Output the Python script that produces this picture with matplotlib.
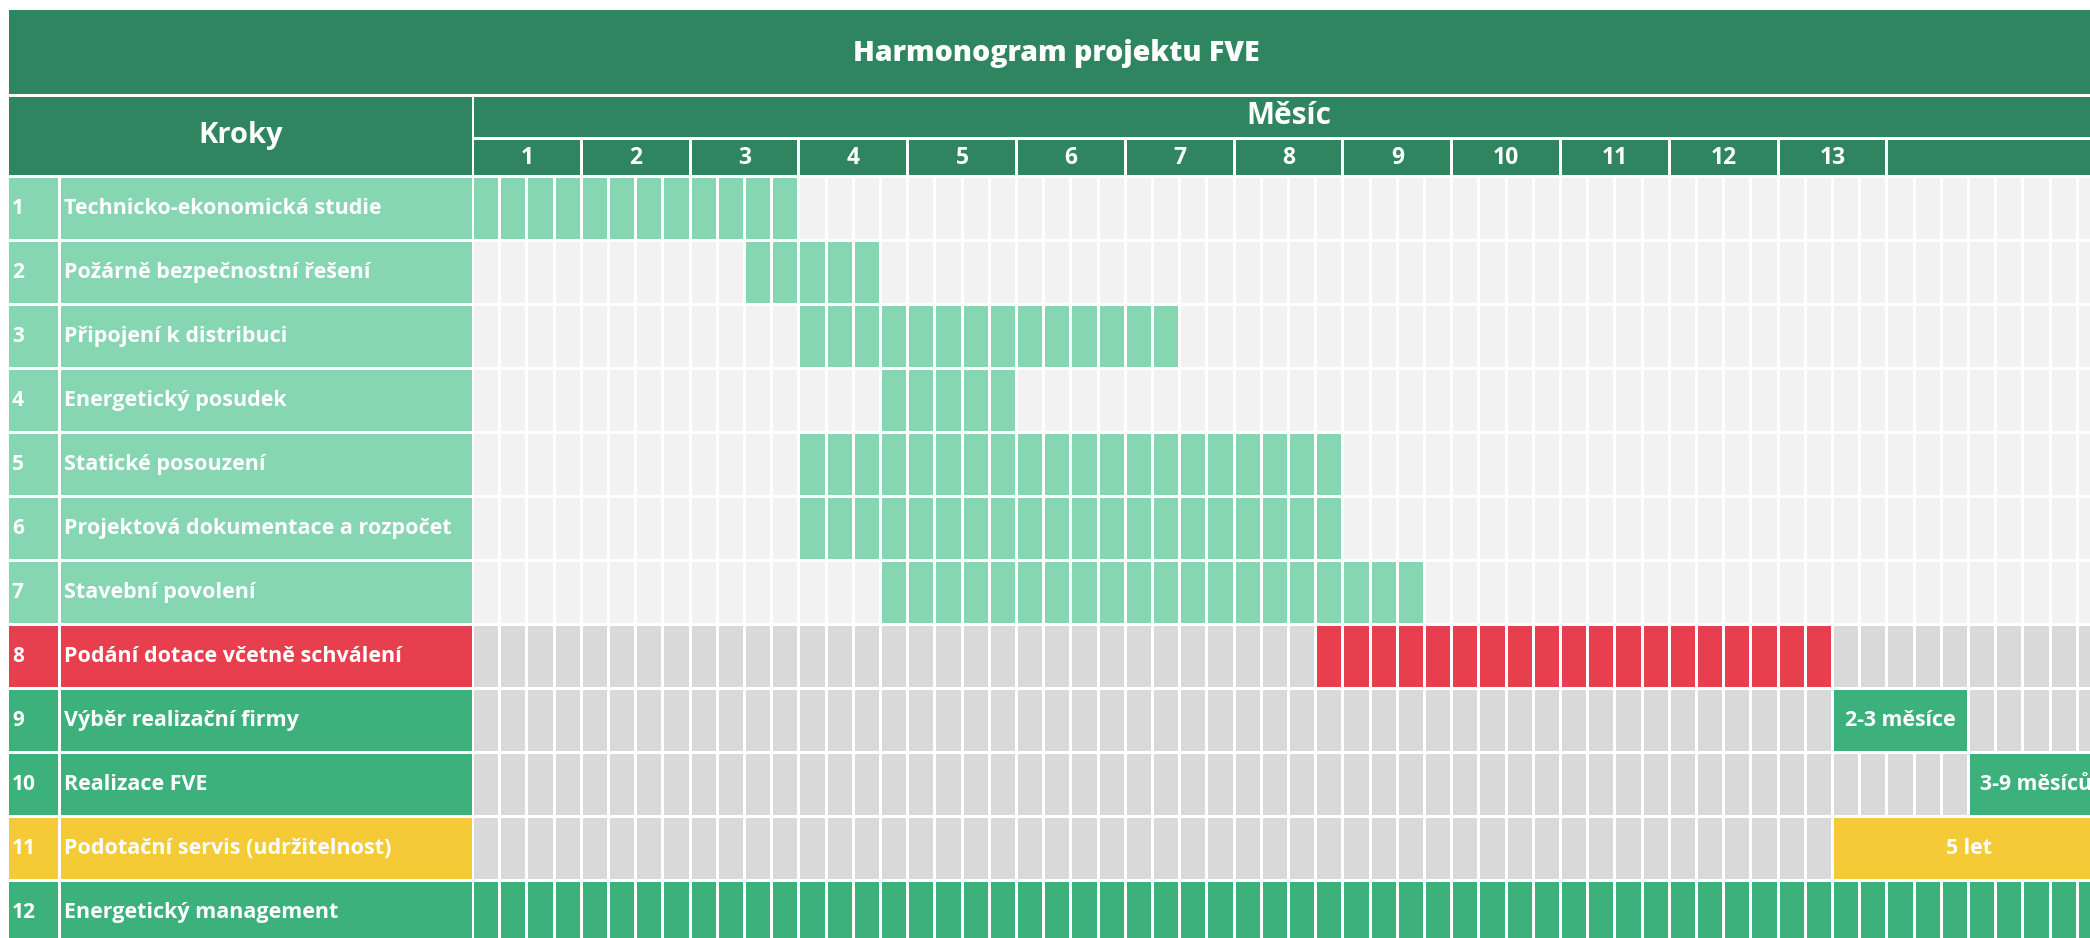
import matplotlib
matplotlib.use("Agg")
import matplotlib.pyplot as plt

# ---------------- data ----------------
title = "Harmonogram projektu FVE"
col_header = "Kroky"
time_header = "Měsíc"
months = [str(m) for m in range(1, 14)]
steps = [
    "Technicko-ekonomická studie",
    "Požárně bezpečnostní řešení",
    "Připojení k distribuci",
    "Energetický posudek",
    "Statické posouzení",
    "Projektová dokumentace a rozpočet",
    "Stavební povolení",
    "Podání dotace včetně schválení",
    "Výběr realizační firmy",
    "Realizace FVE",
    "Podotační servis (udržitelnost)",
    "Energetický management",
]
start_week = [0, 10, 12, 15, 12, 12, 15, 31, 50, 55, 50, 0]
end_week = [11, 14, 25, 19, 31, 31, 34, 49, 54, 59, 59, 59]
block_text = [None] * 8 + ["2-3 měsíce", "3-9 měsíců", "5 let", None]
merged = [False] * 8 + [True, True, True, False]
n_weeks = 60
weeks_per_month = 4

# ---------------- style ----------------
DARK = "#2E8560"
LIGHT_GREEN = "#86D6B1"
GREEN = "#3CB17C"
RED = "#E83F4E"
YELLOW = "#F4CA37"
LIGHT_GRAY = "#F2F2F2"
GRAY = "#D9D9D9"

label_color = [LIGHT_GREEN] * 7 + [RED, GREEN, GREEN, YELLOW, GREEN]
bg_color = [LIGHT_GRAY] * 7 + [GRAY] * 4 + [GREEN]
fill_color = [LIGHT_GREEN] * 7 + [RED, GREEN, GREEN, YELLOW, GREEN]

FONT = ["Open Sans", "DejaVu Sans"]
W, H = 2090, 938
LEFT = 9
NUM_R = 58
LAB_L = 61
LAB_R = 472
GX0 = 474
WEEK = 27.2
GAP = 3
ROW0 = 178
PITCH = 64
CELL_H = 61
TABLE_R = GX0 + n_weeks * WEEK - GAP

fig = plt.figure(figsize=(W / 100, H / 100), dpi=100)
ax = fig.add_axes([0, 0, 1, 1])
ax.set_xlim(0, W)
ax.set_ylim(H, 0)
ax.axis("off")


def wx(k):
    return GX0 + k * WEEK


def rect(x0, x1, y0, y1, color):
    ax.barh((y0 + y1) / 2, x1 - x0, height=y1 - y0, left=x0, color=color,
            linewidth=0)


# title band
rect(LEFT, TABLE_R, 10, 94, DARK)
ax.text((LEFT + TABLE_R) / 2, 53, title, color="white", fontsize=20.5,
        fontweight=800, family=FONT, ha="center", va="center")

# header
rect(LEFT, LAB_R, 97, 175, DARK)
ax.text((LEFT + LAB_R) / 2, 136, col_header, color="white", fontsize=21,
        fontweight="bold", family=FONT, ha="center", va="center")
rect(GX0, TABLE_R, 97, 137, DARK)
ax.text((GX0 + TABLE_R) / 2, 116, time_header, color="white", fontsize=21.5,
        fontweight="bold", family=FONT, ha="center", va="center")
for i, m in enumerate(months):
    x0 = wx(i * weeks_per_month)
    x1 = wx((i + 1) * weeks_per_month) - GAP
    rect(x0, x1, 140, 175, DARK)
    ax.text((x0 + x1) / 2, 158, m, color="white", fontsize=16.5,
            fontweight="bold", family=FONT, ha="center", va="center")
rect(wx(len(months) * weeks_per_month), TABLE_R, 140, 175, DARK)

# rows
for r, name in enumerate(steps):
    y0 = ROW0 + r * PITCH
    y1 = y0 + CELL_H
    yc = (y0 + y1) / 2
    rect(LEFT, NUM_R, y0, y1, label_color[r])
    rect(LAB_L, LAB_R, y0, y1, label_color[r])
    ax.text(LEFT + 3, yc, str(r + 1), color="white", fontsize=15,
            fontweight="bold", family=FONT, ha="left", va="center")
    ax.text(LAB_L + 3, yc, name, color="white", fontsize=15.5,
            fontweight="bold", family=FONT, ha="left", va="center")
    for k in range(n_weeks):
        active = start_week[r] <= k <= end_week[r]
        if merged[r] and active:
            continue
        rect(wx(k), wx(k + 1) - GAP, y0, y1,
             fill_color[r] if active else bg_color[r])
    if merged[r]:
        x0 = wx(start_week[r])
        x1 = wx(end_week[r] + 1) - GAP
        rect(x0, x1, y0, y1, fill_color[r])
        ax.text((x0 + x1) / 2, yc, block_text[r], color="white",
                fontsize=15.3, fontweight="bold", family=FONT,
                ha="center", va="center")

fig.savefig("out.png", dpi=100, facecolor="white")
